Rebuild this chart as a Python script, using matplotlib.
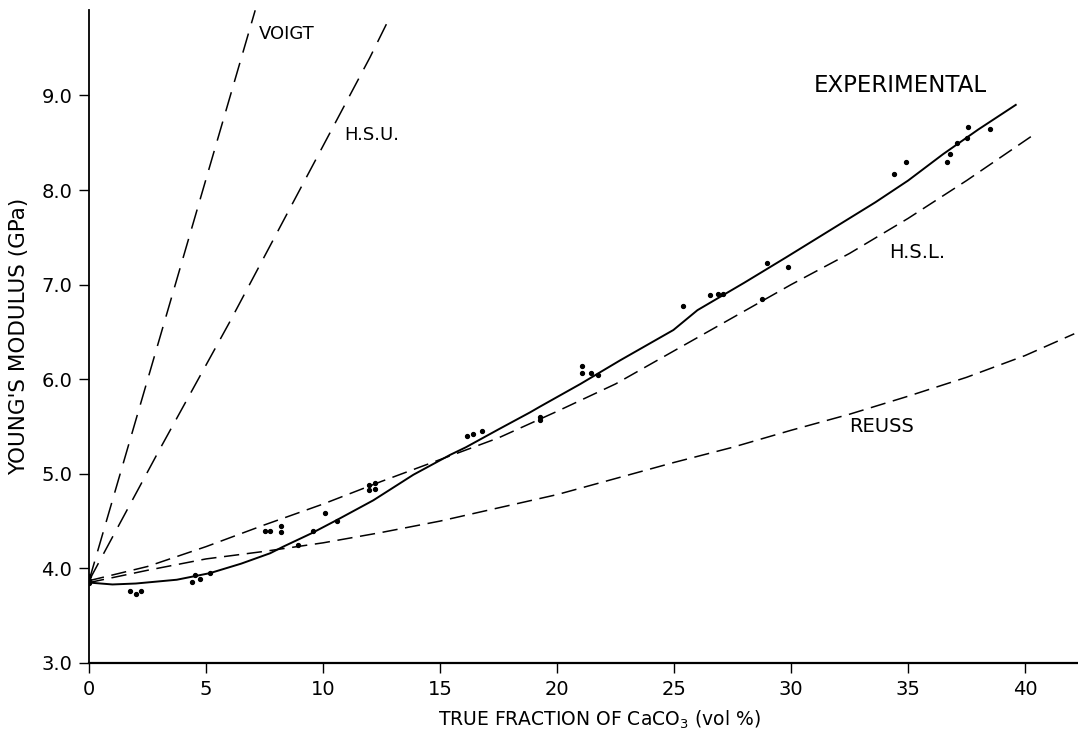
import matplotlib
matplotlib.use("Agg")
import matplotlib.pyplot as plt

# experimental points (vol % CaCO3, GPa)
exp_x = [0, 0, 0, 1.76, 2.0, 2.2, 4.39, 4.53, 4.74, 5.17,
         7.52, 7.74, 8.2, 8.2, 8.94, 9.56, 10.09, 10.58,
         11.98, 12.2, 11.98, 12.2, 16.17, 16.4, 16.8,
         19.27, 19.27, 21.05, 21.05, 21.44, 21.76,
         25.37, 26.54, 26.86, 27.1, 28.99, 28.77, 29.86,
         34.4, 34.9, 36.65, 36.77, 37.07, 37.5, 37.58, 38.5]
exp_y = [3.85, 3.88, 3.92, 3.76, 3.73, 3.76, 3.86, 3.93, 3.89, 3.95,
         4.39, 4.39, 4.45, 4.38, 4.25, 4.40, 4.59, 4.50,
         4.88, 4.90, 4.83, 4.84, 5.40, 5.42, 5.45,
         5.60, 5.57, 6.14, 6.07, 6.07, 6.04,
         6.77, 6.89, 6.90, 6.90, 7.23, 6.85, 7.19,
         8.17, 8.30, 8.30, 8.38, 8.50, 8.55, 8.67, 8.65]

# fitted experimental curve
fit_x = [0, 1, 2, 3.75, 5.17, 6.5, 7.74, 8.3, 9.5, 10.58, 12.15, 13.86,
         15.43, 16.1, 17.5, 18.85, 19.27, 21, 22.7, 24.97, 26, 28, 29.8,
         31.7, 33.6, 35, 36.5, 38, 39.6]
fit_y = [3.85, 3.83, 3.84, 3.88, 3.95, 4.05, 4.16, 4.23, 4.37, 4.51, 4.72, 4.99,
         5.20, 5.28, 5.47, 5.65, 5.71, 5.95, 6.20, 6.52, 6.73, 7.02, 7.29,
         7.58, 7.87, 8.10, 8.38, 8.64, 8.90]

# bounds
voigt_x = [0, 7.1]
voigt_y = [3.87, 9.9]
hsu_x = [0, 3, 6, 9, 12, 12.9]
hsu_y = [3.87, 5.25, 6.6, 8.0, 9.4, 9.85]
hsl_x = [0, 2.5, 5, 7.5, 10, 12.5, 15, 17.5, 20, 22.5, 25, 27.5, 30, 32.5,
         35, 37.5, 40.4]
hsl_y = [3.87, 4.02, 4.23, 4.46, 4.68, 4.92, 5.15, 5.38, 5.66, 5.95, 6.30,
         6.65, 7.00, 7.33, 7.70, 8.10, 8.59]
reuss_x = [0, 2.5, 5, 7.5, 10, 12.5, 15, 17.5, 20, 22.5, 25, 27.5, 30, 32.5,
           35, 37.5, 40, 42.1]
reuss_y = [3.85, 3.98, 4.10, 4.18, 4.27, 4.38, 4.50, 4.64, 4.78, 4.95, 5.12,
           5.28, 5.46, 5.63, 5.82, 6.02, 6.25, 6.48]

xticks = [0, 5, 10, 15, 20, 25, 30, 35, 40]
yticks = [3.0, 4.0, 5.0, 6.0, 7.0, 8.0, 9.0]

fig = plt.figure(figsize=(10.78, 7.35), dpi=100)
ax = fig.add_axes([0.0826, 0.098, 0.9174, 0.888])

long_dash = (0, (13, 7))
short_dash = (0, (10, 5))
ax.plot(voigt_x, voigt_y, color="black", lw=1.1, linestyle=long_dash)
ax.plot(hsu_x, hsu_y, color="black", lw=1.1, linestyle=long_dash)
ax.plot(hsl_x, hsl_y, color="black", lw=1.1, linestyle=short_dash)
ax.plot(reuss_x, reuss_y, color="black", lw=1.1, linestyle=short_dash)
ax.plot(fit_x, fit_y, color="black", lw=1.4)
ax.plot(exp_x, exp_y, linestyle="none", marker="o", markersize=2.8,
        color="black")

# curve labels
ax.text(7.25, 9.65, "VOIGT", fontsize=13, va="center")
ax.text(10.9, 8.58, "H.S.U.", fontsize=13, va="center")
ax.text(34.66, 9.1, "EXPERIMENTAL", fontsize=16.5, va="center", ha="center")
ax.text(34.2, 7.34, "H.S.L.", fontsize=14, va="center")
ax.text(32.5, 5.5, "REUSS", fontsize=14, va="center")

ax.set_xlim(0, 42.26)
ax.set_ylim(3.0, 9.9)
ax.set_xticks(xticks)
ax.set_xticklabels([str(t) for t in xticks])
ax.set_yticks(yticks)
ax.set_yticklabels([f"{t:.1f}" for t in yticks])
ax.tick_params(direction="out", length=7, width=1, labelsize=14, pad=5)

for s in ["top", "right"]:
    ax.spines[s].set_visible(False)
ax.spines["left"].set_linewidth(1.3)
ax.spines["bottom"].set_linewidth(1.6)

ax.set_xlabel("TRUE FRACTION OF CaCO$_3$ (vol %)", fontsize=13.5)
ax.xaxis.set_label_coords(0.516, -0.07)
ax.set_ylabel("YOUNG'S MODULUS (GPa)", fontsize=15.5)
ax.yaxis.set_label_coords(-0.061, 0.5)

fig.savefig("out.png", dpi=100)
